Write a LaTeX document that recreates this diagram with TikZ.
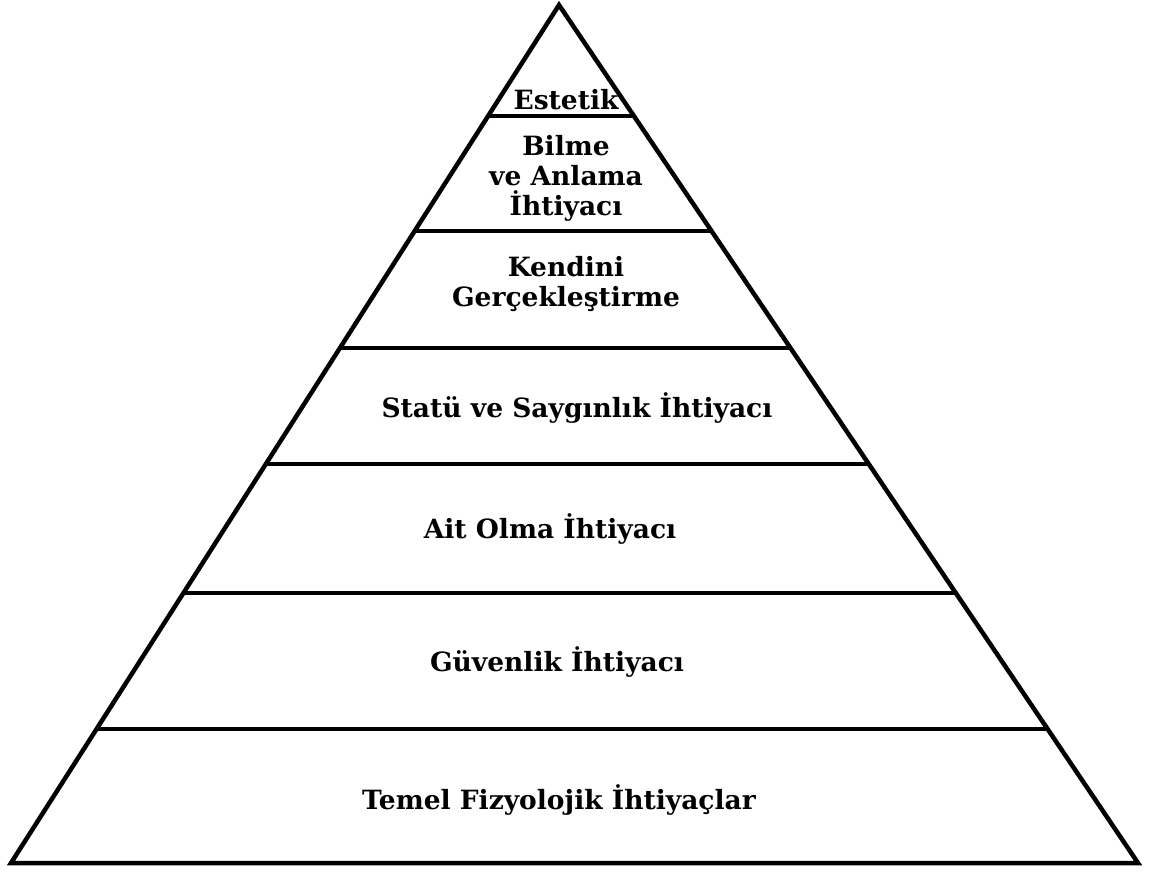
\documentclass[tikz,border=0pt]{standalone}
\usepackage{fontspec}
\setmainfont{DejaVu Serif}
\usetikzlibrary{calc}
\tikzset{
  edge/.style={line width=4.5pt, line join=miter, line cap=butt},
  lbl/.style={font=\fontsize{26.5}{30}\selectfont\bfseries, align=center, inner sep=0pt}
}
\begin{document}
\begin{tikzpicture}[x=1pt,y=-1pt]
\useasboundingbox[fill=white] (0,0) rectangle (1155,871);
\coordinate (A) at (559,5);
\coordinate (L) at (11,863);
\coordinate (R) at (1138,863);
\draw[edge] (A) -- (L) -- (R) -- cycle;
\foreach \n/\yy in {1/116,2/231,3/348,4/464,5/593,6/729}{
  \pgfmathsetmacro{\t}{(\yy-5)/858}
  \coordinate (L\n) at ($(A)!\t!(L)$);
  \coordinate (R\n) at ($(A)!\t!(R)$);
  \draw[edge] (L\n) -- (R\n);
}
\node[lbl] (estetik) at (566,100) {Estetik};
\node[lbl] (bilme) at (566,178) {Bilme\\ve Anlama\\İhtiyacı};
\node[lbl] (kendini) at (566,284) {Kendini\\Gerçekleştirme};
\node[lbl] (statu) at (577,408) {Statü ve Saygınlık İhtiyacı};
\node[lbl] (ait) at (550,529) {Ait Olma İhtiyacı};
\node[lbl] (guven) at (557,662) {Güvenlik İhtiyacı};
\node[lbl] (temel) at (559,800) {Temel Fizyolojik İhtiyaçlar};
\end{tikzpicture}
\end{document}
